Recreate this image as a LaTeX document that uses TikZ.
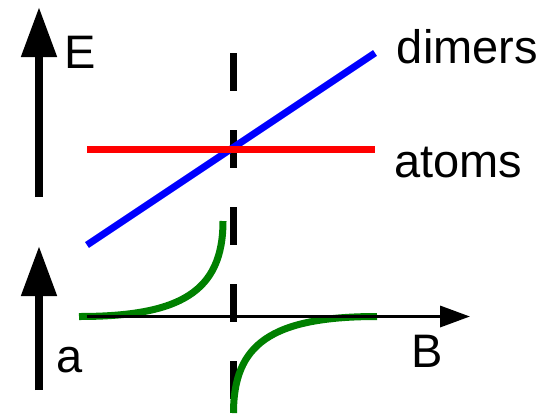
\documentclass[tikz,border=0pt]{standalone}
\usepackage{fontspec}
\setmainfont{Liberation Sans}
\usetikzlibrary{arrows.meta}
\definecolor{curvegreen}{RGB}{0,128,0}
\begin{document}
\begin{tikzpicture}[
  x=1pt, y=-1pt,
  every node/.style={
    inner sep=0pt,
    anchor=base,
    font=\fontsize{47}{56}\selectfont
  },
  axisbig/.style={
    line width=8pt,
    -{Triangle[length=50pt,width=34pt]}
  },
  axissmall/.style={
    line width=3.5pt,
    -{Triangle[length=30pt,width=21pt]}
  },
  level/.style={line width=7pt}
]
\useasboundingbox (0,0) rectangle (553,413);
% resonance position
\coordinate (r0) at (233.5,53);
\coordinate (r1) at (233.5,400);
\draw[line width=7pt, dash pattern=on 38pt off 39pt] (r0) -- (r1);
% energy levels
\coordinate (d0) at (87,245);
\coordinate (d1) at (375,53);
\coordinate (t0) at (87,149.5);
\coordinate (t1) at (375,149.5);
\draw[level, blue] (d0) -- (d1);
\draw[level, red] (t0) -- (t1);
% scattering length
\draw[level, curvegreen] (79,316.5) .. controls (180,316.5) and (223,292) .. (223,221);
\draw[level, curvegreen] (233.5,413) .. controls (233.5,345) and (270,316.5) .. (377,316.5);
% axes
\coordinate (e0) at (39,197);
\coordinate (e1) at (39,7);
\coordinate (a0) at (39,390);
\coordinate (a1) at (39,246);
\coordinate (b0) at (87,316.5);
\coordinate (b1) at (470,316.5);
\draw[axisbig] (e0) -- (e1);
\draw[axisbig] (a0) -- (a1);
\draw[axissmall] (b0) -- (b1);
% labels
\node (lblE) at (80.5,68) {E};
\node (lbla) at (70,372) {a};
\node (lblB) at (427.5,367) {B};
\node (lbldimers) at (467.5,63) {dimers};
\node (lblatoms) at (458.5,177) {atoms};
\end{tikzpicture}
\end{document}
